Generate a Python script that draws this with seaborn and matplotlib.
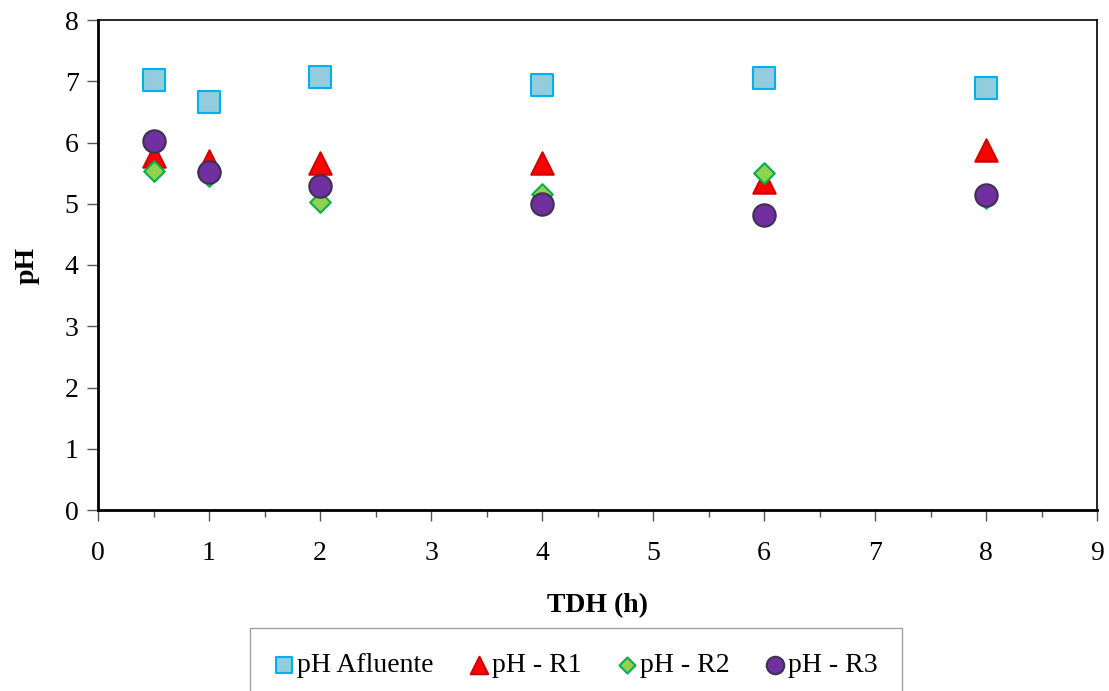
import matplotlib
matplotlib.use("Agg")
import matplotlib.pyplot as plt
import seaborn as sns
import pandas as pd
from matplotlib.ticker import MultipleLocator

tdh = [0.5, 1, 2, 4, 6, 8]
ph_afluente = [7.02, 6.66, 7.07, 6.94, 7.05, 6.89]
ph_r1 = [5.78, 5.70, 5.67, 5.67, 5.36, 5.88]
ph_r2 = [5.53, 5.45, 5.03, 5.16, 5.50, 5.10]
ph_r3 = [6.02, 5.52, 5.29, 5.00, 4.82, 5.14]

series_names = ["pH Afluente", "pH - R1", "pH - R2", "pH - R3"]
series_values = [ph_afluente, ph_r1, ph_r2, ph_r3]

sns.set_theme(style="white")
plt.rcParams['font.family'] = ['Liberation Serif', 'DejaVu Serif']
plt.rcParams['text.color'] = 'black'
plt.rcParams['axes.labelcolor'] = 'black'
plt.rcParams['xtick.color'] = 'black'
plt.rcParams['ytick.color'] = 'black'

styles = {
    "pH Afluente": dict(marker="s", color="#93CDDD", edgecolor="#00B0F0", s=230),
    "pH - R1": dict(marker="^", color="#FF0000", edgecolor="#D00000", s=260),
    "pH - R2": dict(marker="D", color="#92D050", edgecolor="#00B050", s=110),
    "pH - R3": dict(marker="o", color="#7030A0", edgecolor="#3F3151", s=260),
}

fig = plt.figure(figsize=(11.09, 6.91), dpi=100)
ax = fig.add_axes([98/1109, 1-510/691, (1097-98)/1109, (510-20)/691])

for name, vals in zip(series_names, series_values):
    df = pd.DataFrame({"TDH": tdh, "pH": vals})
    st = styles[name]
    sns.scatterplot(data=df, x="TDH", y="pH", ax=ax, marker=st["marker"],
                    color=st["color"], edgecolor=st["edgecolor"], linewidth=1.5,
                    s=st["s"], label=name, zorder=3, clip_on=False)

ax.set_xlim(0, 9)
ax.set_ylim(0, 8)
ax.xaxis.set_major_locator(MultipleLocator(1))
ax.xaxis.set_minor_locator(MultipleLocator(0.5))
ax.yaxis.set_major_locator(MultipleLocator(1))
ax.tick_params(axis='both', which='major', direction='out', length=8, width=1,
               color='#555555', labelcolor='black', labelsize=20, bottom=True, left=True)
ax.tick_params(axis='x', which='minor', direction='out', length=5, width=1,
               color='#555555', bottom=True)
ax.tick_params(axis='x', pad=14)
ax.tick_params(axis='y', pad=6)
for sp in ax.spines.values():
    sp.set_visible(True)
    sp.set_color('black')
    sp.set_linewidth(1.2)
ax.spines['bottom'].set_linewidth(2)
ax.spines['left'].set_linewidth(2)

ax.set_xlabel("TDH (h)", fontsize=20, fontweight='bold', labelpad=20, color='black')
ax.set_ylabel("pH", fontsize=20, fontweight='bold', labelpad=18, color='black')
ax.grid(False)

handles, labels = ax.get_legend_handles_labels()
ax.get_legend().remove()
leg = fig.legend(handles, labels, loc='upper center', bbox_to_anchor=(576/1109, 1-628/691),
                 ncol=4, fontsize=20, frameon=True, fancybox=False, edgecolor='#888888',
                 handlelength=0.7, handletextpad=0.1, columnspacing=1.3,
                 borderpad=0.9, borderaxespad=0, markerscale=0.78)
leg.get_frame().set_linewidth(1)
for t in leg.get_texts():
    t.set_color('black')

fig.savefig("out.png", dpi=100)
